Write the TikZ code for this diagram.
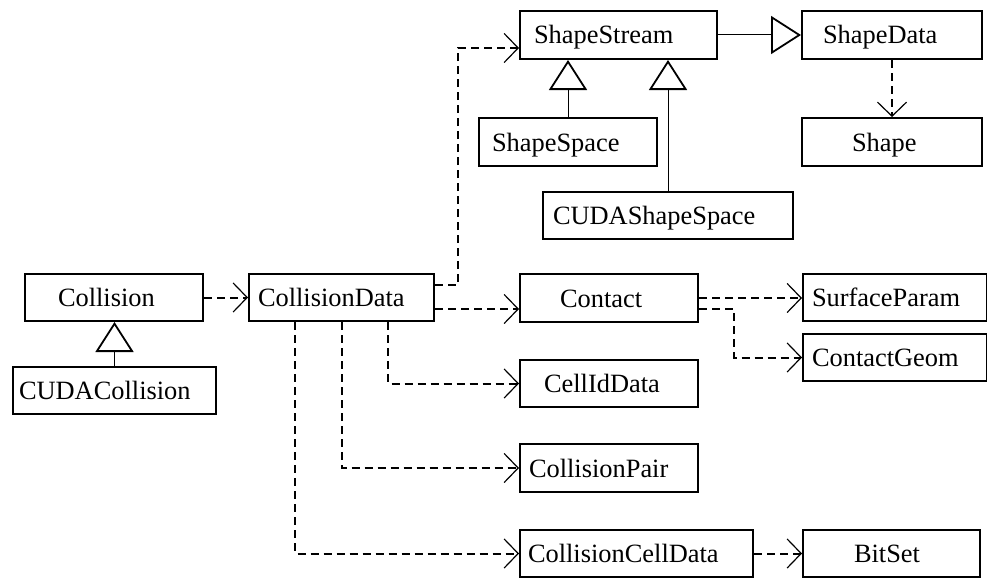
\documentclass[tikz,border=0pt]{standalone}
\usepackage{fontspec}
\setmainfont{Liberation Serif}
\usetikzlibrary{arrows.meta}

\begin{document}
\begin{tikzpicture}[x=1pt, y=-1pt,
  every node/.style={font=\fontsize{26.4}{30}\selectfont},
  cls/.style={draw, line width=2pt, inner ysep=0pt, align=left,
    text height=18pt, text depth=0pt, anchor=north west},
  dep/.style={line width=2pt, dash pattern=on 8pt off 5pt,
    -{Straight Barb[length=14pt, width=29pt, line width=1.2pt]}},
  inh/.style={line width=1pt,
    -{Triangle[open, length=30pt, width=38pt, line width=1.8pt]}}]
\useasboundingbox (0,0) rectangle (987,578);

% classes: text width = box width - 2*pad, inner xsep = pad
\node[cls, minimum height=47pt, text width=112pt, inner xsep=33pt] (Collision) at (24,273) {Collision};
\node[cls, minimum height=47pt, text width=191pt, inner xsep=6pt] (CUDACollision) at (12,366) {CUDACollision};
\node[cls, minimum height=47pt, text width=167pt, inner xsep=9pt] (CollisionData) at (248,273) {CollisionData};
\node[cls, minimum height=48pt, text width=169pt, inner xsep=14pt] (ShapeStream) at (519,10) {ShapeStream};
\node[cls, minimum height=48pt, text width=138pt, inner xsep=21pt] (ShapeData) at (801,10) {ShapeData};
\node[cls, minimum height=48pt, text width=152pt, inner xsep=13pt] (ShapeSpace) at (478,117) {ShapeSpace};
\node[cls, minimum height=47pt, text width=230pt, inner xsep=10pt] (CUDAShapeSpace) at (542,191) {CUDAShapeSpace};
\node[cls, minimum height=48pt, text width=80pt, inner xsep=50pt] (Shape) at (801,117) {Shape};
\node[cls, minimum height=48pt, text width=98pt, inner xsep=40pt] (Contact) at (519,273) {Contact};
\node[cls, minimum height=47pt, text width=166pt, inner xsep=9pt] (SurfaceParam) at (802,273) {SurfaceParam};
\node[cls, minimum height=47pt, text width=166pt, inner xsep=9pt] (ContactGeom) at (802,333) {ContactGeom};
\node[cls, minimum height=47pt, text width=130pt, inner xsep=24pt] (CellIdData) at (519,359) {CellIdData};
\node[cls, minimum height=48pt, text width=160pt, inner xsep=9pt] (CollisionPair) at (519,443) {CollisionPair};
\node[cls, minimum height=47pt, text width=217pt, inner xsep=8pt] (CollisionCellData) at (519,529) {CollisionCellData};
\node[cls, minimum height=47pt, text width=75pt, inner xsep=51pt] (BitSet) at (802,529) {BitSet};

% generalizations
\draw[inh] (CUDACollision.north) -- (CUDACollision.north |- Collision.south);
\draw[inh] (ShapeSpace.north) -- (ShapeSpace.north |- ShapeStream.south);
\draw[inh] (CUDAShapeSpace.north) -- (CUDAShapeSpace.north |- ShapeStream.south);
\draw[inh] (ShapeStream.east) -- (ShapeData.west);

% dependencies
\draw[dep] (Collision.east) -- (Collision.east -| CollisionData.west);
\coordinate (cdUp) at ([yshift=12.5pt]CollisionData.east);
\draw[dep] (cdUp) -- ++(23,0) |- ([yshift=-13pt]ShapeStream.west);
\coordinate (cdLow) at ([yshift=-11.5pt]CollisionData.east);
\draw[dep] (cdLow) -- (cdLow -| Contact.west);
\draw[dep] ([xshift=46.5pt]CollisionData.south) |- (CellIdData.west);
\draw[dep] (CollisionData.south) |- (CollisionPair.west);
\draw[dep] ([xshift=-46.5pt]CollisionData.south) |- (CollisionCellData.west);
\draw[dep] (CollisionCellData.east) -- (CollisionCellData.east -| BitSet.west);
\draw[dep] (ShapeData.south) -- (Shape.north);
\draw[dep] (Contact.east) -- (Contact.east -| SurfaceParam.west);
\coordinate (ctLow) at ([yshift=-11pt]Contact.east);
\draw[dep] (ctLow) -- ++(35,0) |- (ContactGeom.west);
\end{tikzpicture}
\end{document}
